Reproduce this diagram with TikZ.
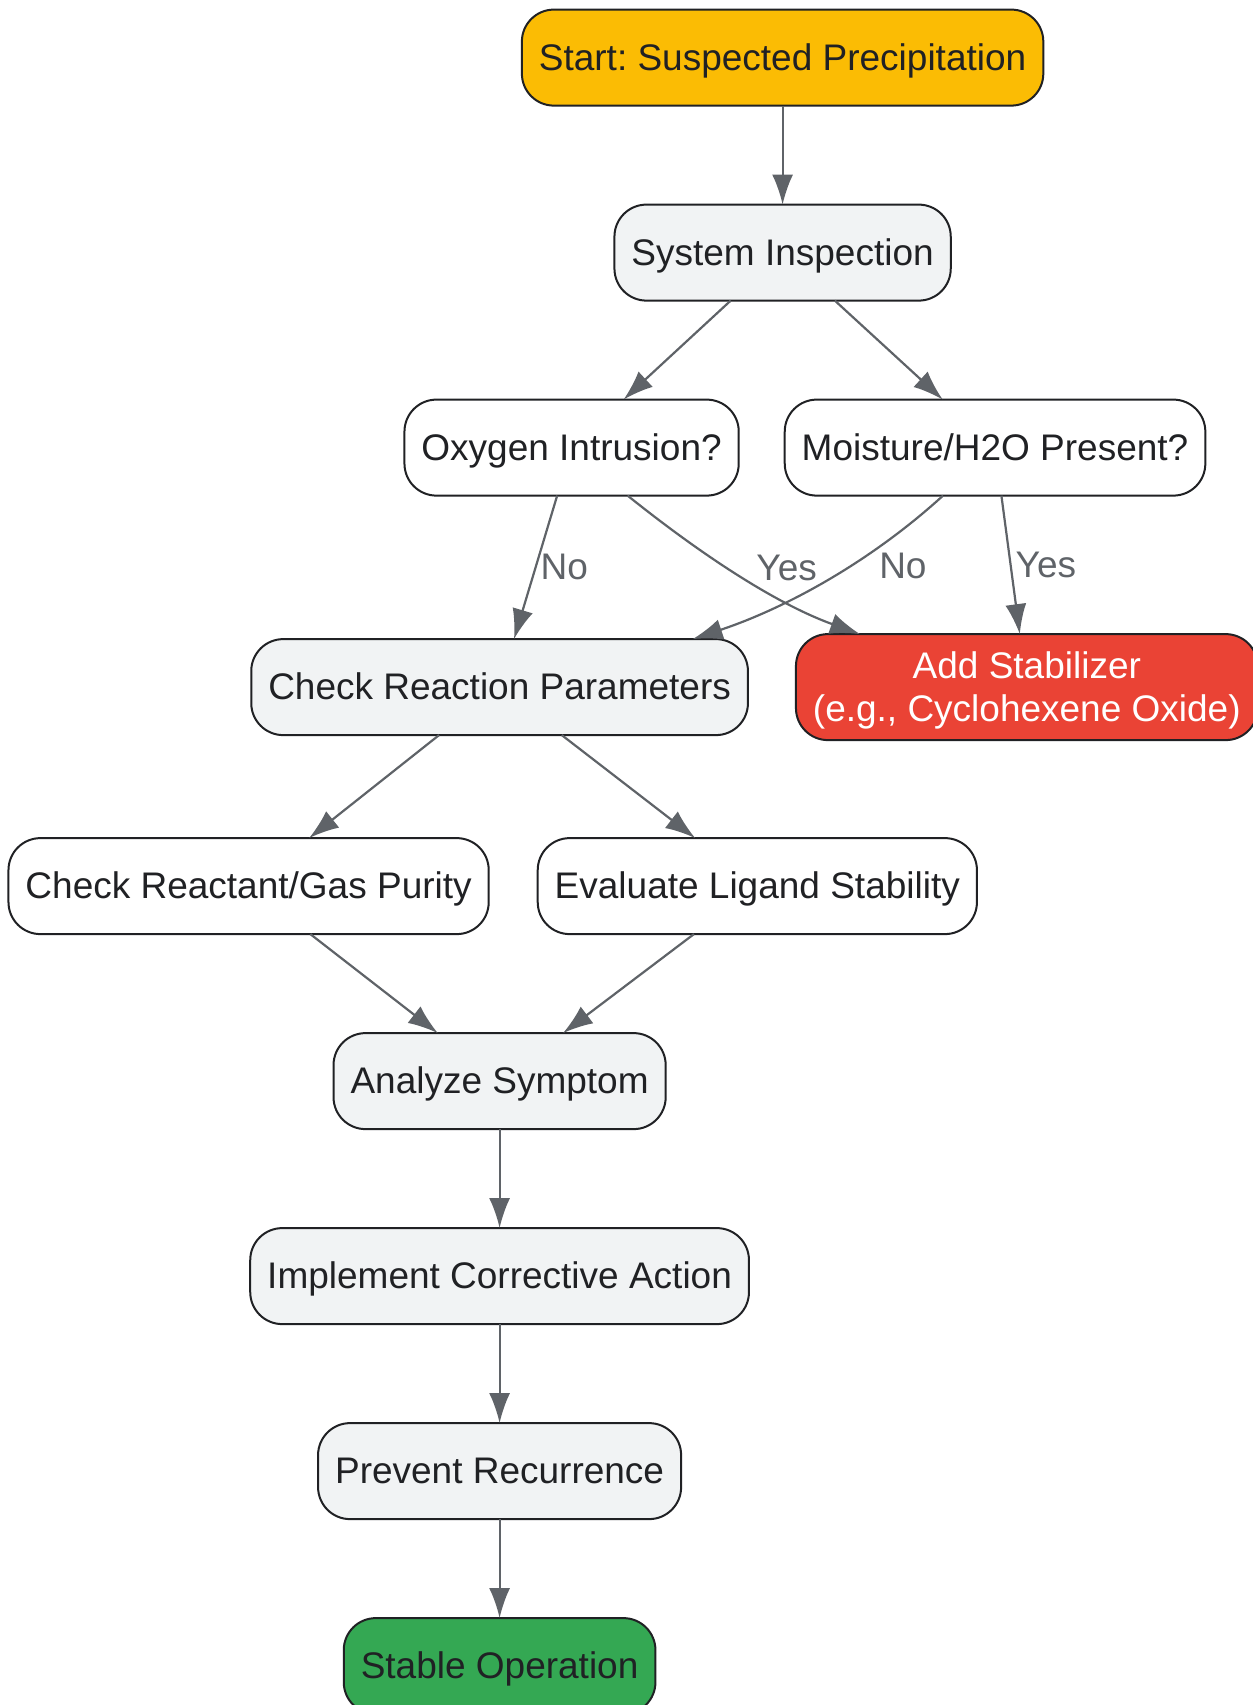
\documentclass[tikz,border=0pt]{standalone}
\usepackage{fontspec}
\setmainfont{Liberation Sans}
\usepackage{tikz}
\usetikzlibrary{arrows.meta,positioning}

\definecolor{startyellow}{HTML}{FBBC04}
\definecolor{stepgray}{HTML}{F1F3F4}
\definecolor{fixred}{HTML}{EA4335}
\definecolor{okgreen}{HTML}{34A853}
\definecolor{inkdark}{HTML}{202124}
\definecolor{linegray}{HTML}{5F6368}

\frenchspacing

\begin{document}
\begin{tikzpicture}[>={Latex[length=15pt,width=10.5pt]}, node distance=49.5pt]
	\tikzstyle{box}=[draw=inkdark, line width=1pt, rounded corners=16pt,
		fill=white, text=inkdark, minimum height=48pt, inner xsep=8.5pt,
		outer sep=0pt, text height=16.7pt, text depth=3.9pt,
		font=\fontsize{18.5}{21.2}\selectfont]
	\tikzstyle{flow}=[->, draw=linegray, line width=1.1pt]
	\tikzstyle{answer}=[text=linegray, inner sep=2pt,
		font=\fontsize{18.5}{21.2}\selectfont]
	\useasboundingbox (0,0) rectangle (626.5pt,-852.5pt);
	% % Nodes
	% start
	\node[box, fill=startyellow] (start) at (391.3pt,-28.8pt)
	{Start: Suspected Precipitation};
	% inspection
	\node[box, fill=stepgray, below=of start] (inspect)
	{System Inspection};
	% questions
	\node[box, below=of inspect, xshift=-105.5pt] (oxygen)
	{Oxygen Intrusion?};
	\node[box, right=23pt of oxygen] (moisture)
	{Moisture/H2O Present?};
	% parameters and stabilizer
	\node[box, fill=stepgray, below=71.75pt of oxygen, xshift=-36pt] (params)
	{Check Reaction Parameters};
	\node[box, fill=fixred, text=white, align=center, minimum height=53pt,
		  text height=37.9pt, right=24pt of params] (stabilizer)
	{
		Add Stabilizer \\
		(e.g., Cyclohexene Oxide)
	};
	% checks
	\node[box, below=51.5pt of params, xshift=-125.5pt] (purity)
	{Check Reactant/Gas Purity};
	\node[box, right=24.5pt of purity] (ligand)
	{Evaluate Ligand Stability};
	% analysis down to the end
	\node[box, fill=stepgray, below=of purity, xshift=125.5pt] (analyze)
	{Analyze Symptom};
	\node[box, fill=stepgray, below=of analyze] (action)
	{Implement Corrective Action};
	\node[box, fill=stepgray, below=of action] (prevent)
	{Prevent Recurrence};
	\node[box, fill=okgreen, below=of prevent] (stable)
	{Stable Operation};
	% % Connectors
	\draw [flow] (start) -- (inspect);
	\draw [flow] (inspect) -- (oxygen);
	\draw [flow] (inspect) -- (moisture);
	\draw [flow] (oxygen) -- node[answer, right]{No} (params);
	\draw [flow] ([xshift=28pt]oxygen.south)
		.. controls +(35.9pt,-28.8pt) and +(-42.5pt,15.3pt) ..
		([xshift=-83.4pt]stabilizer.north)
		node[answer, pos=0.45, right=12pt]{Yes};
	\draw [flow] ([xshift=-26pt]moisture.south)
		.. controls +(-36.4pt,-33.2pt) and +(46.4pt,15.4pt) ..
		([xshift=96.5pt]params.north)
		node[answer, pos=0.4, right=12pt]{No};
	\draw [flow] (moisture) -- node[answer, right]{Yes} (stabilizer);
	\draw [flow] (params) -- (purity);
	\draw [flow] (params) -- (ligand);
	\draw [flow] (purity) -- (analyze);
	\draw [flow] (ligand) -- (analyze);
	\draw [flow] (analyze) -- (action);
	\draw [flow] (action) -- (prevent);
	\draw [flow] (prevent) -- (stable);
\end{tikzpicture}
\end{document}
